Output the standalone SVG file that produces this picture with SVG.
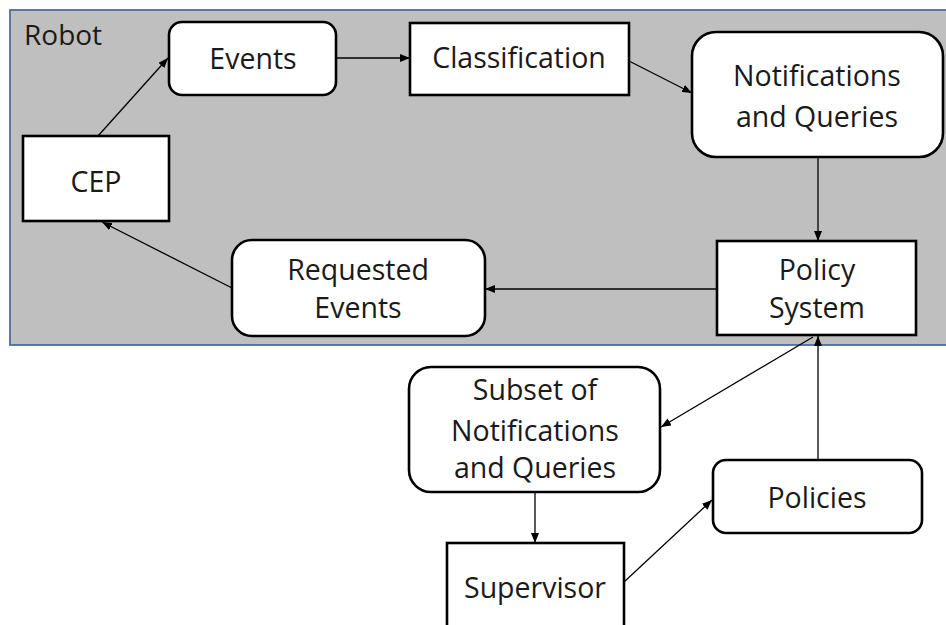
<svg xmlns="http://www.w3.org/2000/svg" width="946" height="625" viewBox="0 0 946 625">
  <defs>
    <marker id="arrow" viewBox="0 0 10 8" refX="10" refY="4" markerWidth="10" markerHeight="8" markerUnits="userSpaceOnUse" orient="auto">
      <path d="M0,0 L10,4 L0,8 Z" fill="#000"/>
    </marker>
  </defs>
  <style>
    .box { fill: #fff; stroke: #000; stroke-width: 2.6; }
    .lbl { font-family: "Open Sans", "Liberation Sans", sans-serif; font-size: 28.5px; fill: #1a1a1a; text-anchor: middle; }
    .edge { stroke: #000; stroke-width: 1.3; fill: none; marker-end: url(#arrow); }
  </style>
  <rect width="946" height="625" fill="#fff"/>

  <!-- Robot boundary -->
  <g id="robot">
    <rect x="10" y="10" width="945" height="335" fill="#bfbfbf" stroke="#4a6e9e" stroke-width="1.8"/>
    <text x="24" y="45" font-family="'Open Sans', 'Liberation Sans', sans-serif" font-size="28" fill="#1a1a1a">Robot</text>
  </g>

  <!-- Connectors -->
  <g id="connectors">
    <line class="edge" x1="98" y1="136" x2="168" y2="58"/>
    <line class="edge" x1="336" y1="58" x2="410" y2="58"/>
    <line class="edge" x1="629" y1="61" x2="692" y2="93"/>
    <line class="edge" x1="818" y1="157" x2="818" y2="241"/>
    <line class="edge" x1="717" y1="289" x2="485" y2="289"/>
    <line class="edge" x1="232" y1="288" x2="102" y2="222"/>
    <line class="edge" x1="813" y1="337" x2="661" y2="427"/>
    <line class="edge" x1="535" y1="492" x2="535" y2="543"/>
    <line class="edge" x1="624" y1="582" x2="712" y2="500"/>
    <line class="edge" x1="818" y1="460" x2="818" y2="336"/>
  </g>

  <!-- Nodes -->
  <g id="events">
    <rect class="box" x="169" y="22" width="167" height="73" rx="13"/>
    <text class="lbl" x="253" y="69">Events</text>
  </g>
  <g id="classification">
    <rect class="box" x="410" y="23" width="219" height="72"/>
    <text class="lbl" x="519" y="68">Classification</text>
  </g>
  <g id="notifications">
    <rect class="box" x="692" y="32" width="251" height="125" rx="24"/>
    <text class="lbl" x="817" y="86">Notifications</text>
    <text class="lbl" x="817" y="127">and Queries</text>
  </g>
  <g id="cep">
    <rect class="box" x="23" y="136" width="146" height="85"/>
    <text class="lbl" x="96" y="192">CEP</text>
  </g>
  <g id="policy-system">
    <rect class="box" x="717" y="241" width="199" height="94"/>
    <text class="lbl" x="817" y="280">Policy</text>
    <text class="lbl" x="817" y="318">System</text>
  </g>
  <g id="requested-events">
    <rect class="box" x="232" y="240" width="253" height="96" rx="20"/>
    <text class="lbl" x="358" y="280">Requested</text>
    <text class="lbl" x="358" y="318">Events</text>
  </g>
  <g id="subset">
    <rect class="box" x="409" y="367" width="251" height="125" rx="22"/>
    <text class="lbl" x="535" y="400">Subset of</text>
    <text class="lbl" x="535" y="441">Notifications</text>
    <text class="lbl" x="535" y="478">and Queries</text>
  </g>
  <g id="policies">
    <rect class="box" x="713" y="460" width="209" height="73" rx="13"/>
    <text class="lbl" x="817" y="508">Policies</text>
  </g>
  <g id="supervisor">
    <rect class="box" x="447" y="543" width="177" height="100"/>
    <text class="lbl" x="535" y="598">Supervisor</text>
  </g>
</svg>
